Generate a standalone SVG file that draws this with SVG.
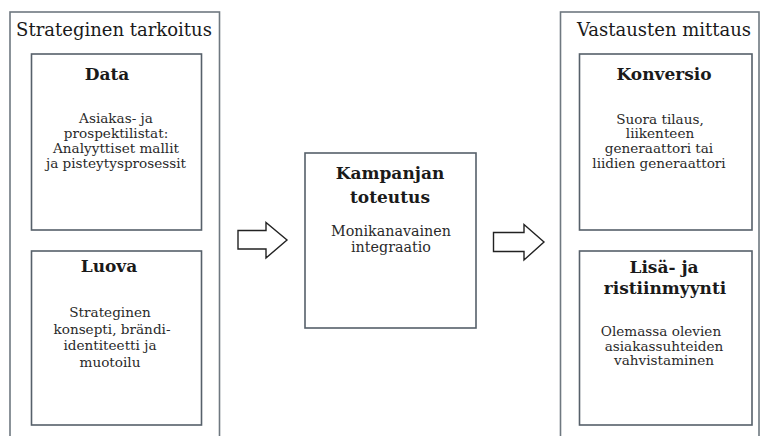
<svg xmlns="http://www.w3.org/2000/svg" width="760" height="436" viewBox="0 0 760 436">
<style>
.outer{fill:none;stroke:#6f7880;stroke-width:1.6}
.inner{fill:#fff;stroke:#56606a;stroke-width:1.6}
.arrow{fill:#fff;stroke:#222;stroke-width:1.4;stroke-linejoin:miter}
text{font-family:"DejaVu Serif","Liberation Serif",serif;fill:#1a1a1a;text-anchor:middle}
.title{font-size:18px}
.head{font-size:17px;font-weight:bold}
.body{font-size:13.6px;fill:#2a2a2a}
.mbody{font-size:14.3px;fill:#2a2a2a}
</style>
<rect width="760" height="436" fill="#fff"/>
<g id="strateginen">
<rect class="outer" x="10" y="12" width="209.5" height="440"/>
<text class="title" x="114" y="36">Strateginen tarkoitus</text>
</g>
<g id="data">
<rect class="inner" x="31.5" y="54" width="170" height="176"/>
<text class="head" x="107" y="80">Data</text>
<text class="body"><tspan x="116" y="123">Asiakas- ja</tspan><tspan x="116" y="138">prospektilistat:</tspan><tspan x="116" y="153">Analyyttiset mallit</tspan><tspan x="116" y="168">ja pisteytysprosessit</tspan></text>
</g>
<g id="luova">
<rect class="inner" x="31.5" y="251" width="170" height="174"/>
<text class="head" x="109" y="272">Luova</text>
<text class="body"><tspan x="110" y="317">Strateginen</tspan><tspan x="112" y="333.5">konsepti, brändi-</tspan><tspan x="110" y="350">identiteetti ja</tspan><tspan x="110" y="367">muotoilu</tspan></text>
</g>
<g id="kampanja">
<rect class="inner" x="305" y="153" width="171" height="175"/>
<text class="head"><tspan x="390" y="179">Kampanjan</tspan><tspan x="390" y="202.5">toteutus</tspan></text>
<text class="mbody"><tspan x="391" y="235.5">Monikanavainen</tspan><tspan x="391" y="251.5">integraatio</tspan></text>
</g>
<g id="vastausten">
<rect class="outer" x="560.5" y="12" width="198.5" height="440"/>
<text class="title" x="664" y="36">Vastausten mittaus</text>
</g>
<g id="konversio">
<rect class="inner" x="579.5" y="54" width="172.5" height="176"/>
<text class="head" x="664" y="80">Konversio</text>
<text class="body"><tspan x="660" y="123.5">Suora tilaus,</tspan><tspan x="660" y="138">liikenteen</tspan><tspan x="659" y="152.5">generaattori tai</tspan><tspan x="659" y="167.5">liidien generaattori</tspan></text>
</g>
<g id="lisamyynti">
<rect class="inner" x="579.5" y="251" width="172.5" height="174"/>
<text class="head"><tspan x="664" y="272.5">Lisä- ja</tspan><tspan x="665" y="293.5">ristiinmyynti</tspan></text>
<text class="body"><tspan x="661" y="336">Olemassa olevien</tspan><tspan x="664" y="350.5">asiakassuhteiden</tspan><tspan x="664" y="365">vahvistaminen</tspan></text>
</g>
<g id="connectors">
<polygon class="arrow" points="238,230.5 266,230.5 266,222.5 287,240 266,258 266,249 238,249"/>
<polygon class="arrow" points="493.5,232.5 524,232.5 524,224.5 544,242 524,260 524,251.5 493.5,251.5"/>
</g>
</svg>
